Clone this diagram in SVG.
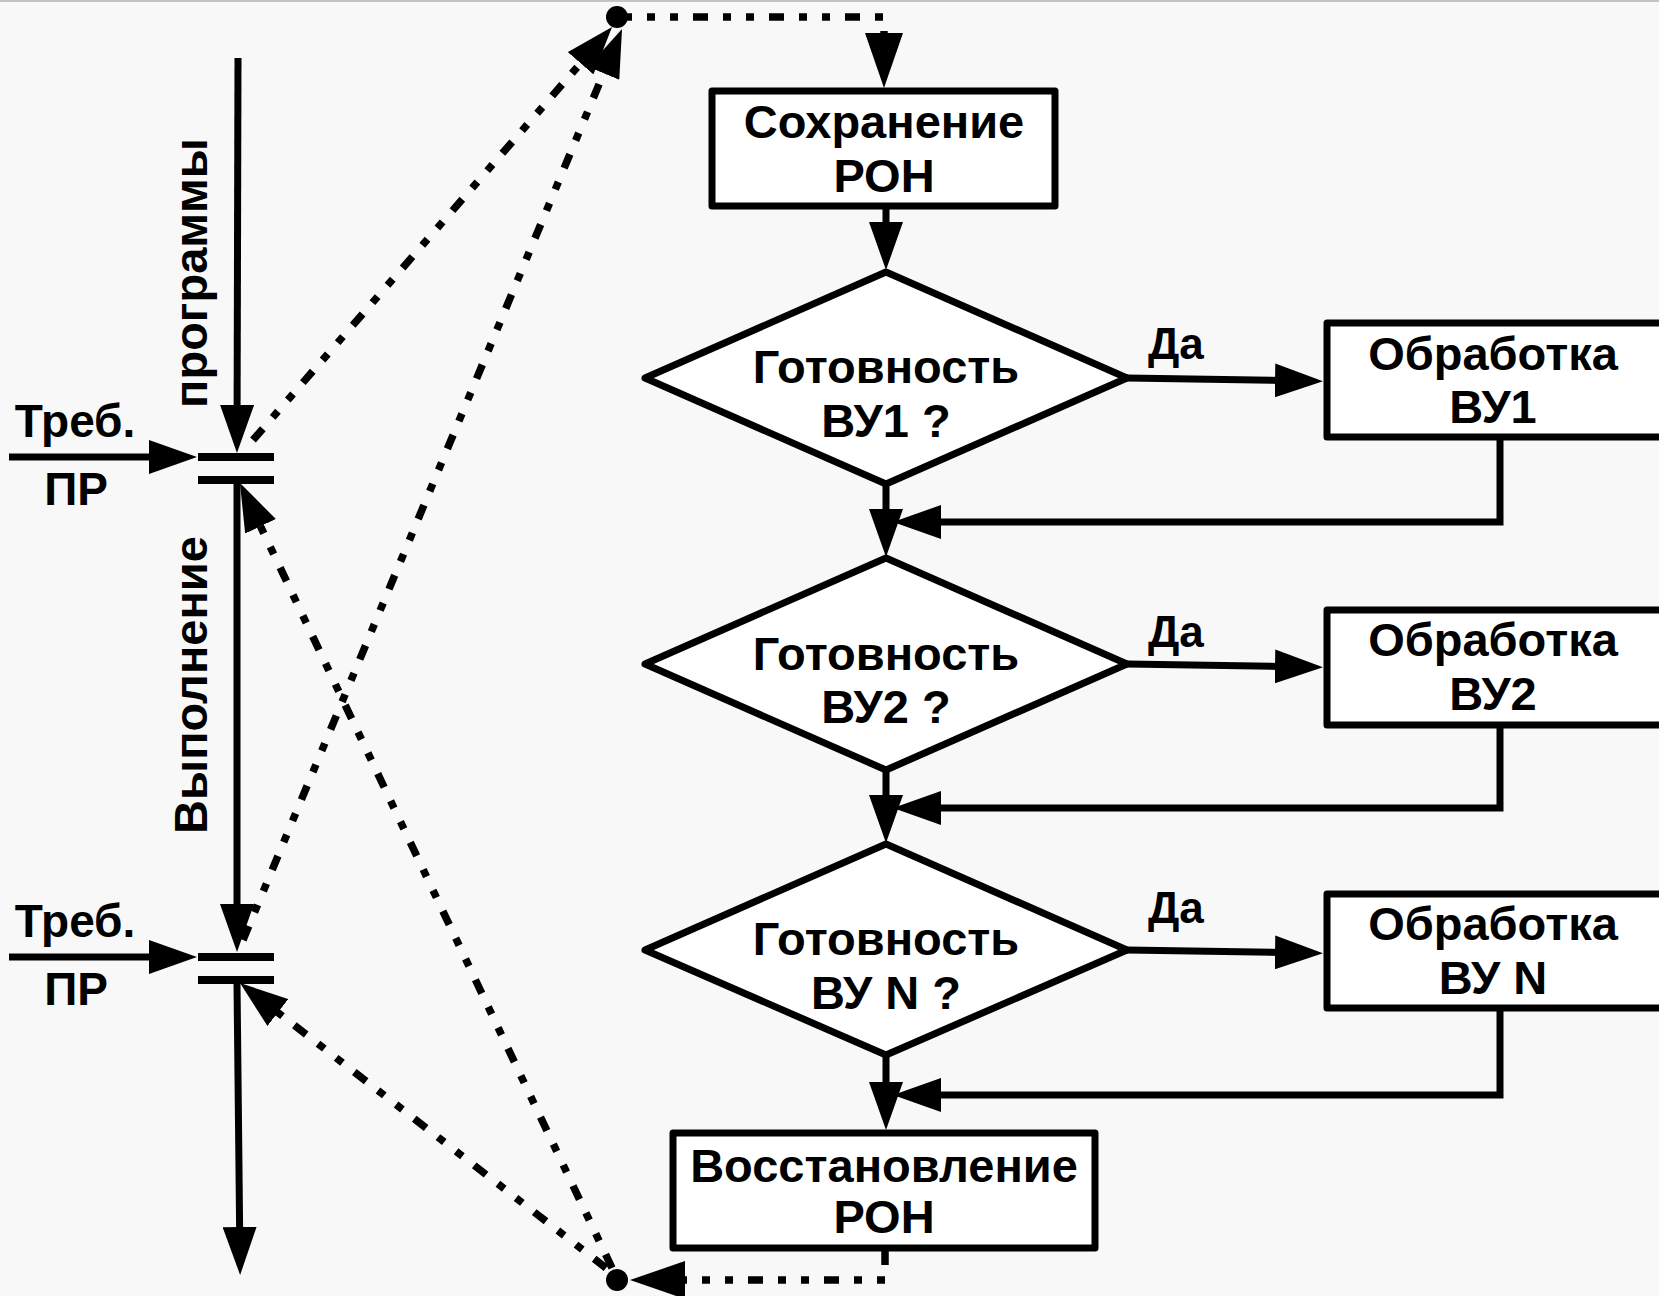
<svg xmlns="http://www.w3.org/2000/svg" width="1659" height="1296" viewBox="0 0 1659 1296">
<style>
  .bg{fill:#f8f8f8}
  .box{fill:#ffffff;stroke:#000;stroke-width:7;stroke-linejoin:round}
  .ln{fill:none;stroke:#000;stroke-width:7}
  .bar{fill:none;stroke:#000;stroke-width:8}
  .dot{fill:none;stroke:#000;stroke-width:7.5;stroke-dasharray:15 15 8 15 8 15}
  text{font-family:"Liberation Sans",Arial,sans-serif;font-weight:bold;fill:#000}
  .t{font-size:47px;text-anchor:middle}
  .s{font-size:46px;text-anchor:middle}
  .da{font-size:44px}
</style>
<defs>
  <marker id="a" viewBox="0 0 48 34" refX="36" refY="17" markerWidth="48" markerHeight="34" markerUnits="userSpaceOnUse" orient="auto">
    <path d="M0,0 L48,17 L0,34 Z" fill="#000"/>
  </marker>
  <marker id="b" viewBox="0 0 55 38" refX="42" refY="19" markerWidth="55" markerHeight="38" markerUnits="userSpaceOnUse" orient="auto">
    <path d="M0,0 L55,19 L0,38 Z" fill="#000"/>
  </marker>
</defs>
<rect class="bg" x="0" y="0" width="1659" height="1296"/>
<rect x="0" y="0" width="1659" height="2" fill="#c4c4c4"/>

<g id="connectors">
  <!-- left program flow -->
  <path class="ln" d="M238,58 L237,441" marker-end="url(#a)"/>
  <path class="ln" d="M237,484 L237,940" marker-end="url(#a)"/>
  <path class="ln" d="M237,983 L240,1263" marker-end="url(#a)"/>
  <path class="ln" d="M9,457 L185,457" marker-end="url(#a)"/>
  <path class="ln" d="M9,957 L185,957" marker-end="url(#a)"/>
  <!-- flowchart -->
  <path class="ln" d="M886,206 L886,258" marker-end="url(#a)"/>
  <path class="ln" d="M886,484 L886,545" marker-end="url(#a)"/>
  <path class="ln" d="M886,770 L886,831" marker-end="url(#a)"/>
  <path class="ln" d="M886,1055 L886,1118" marker-end="url(#a)"/>
  <path class="ln" d="M1127,378 L1311,381" marker-end="url(#a)"/>
  <path class="ln" d="M1127,664 L1311,667" marker-end="url(#a)"/>
  <path class="ln" d="M1127,950 L1311,953" marker-end="url(#a)"/>
  <path class="ln" d="M1500,437 V522 H905" marker-end="url(#a)"/>
  <path class="ln" d="M1500,725 V808 H905" marker-end="url(#a)"/>
  <path class="ln" d="M1500,1010 V1095 H905" marker-end="url(#a)"/>
  <!-- dotted interrupt links -->
  <path class="dot" d="M617,17 H884 V75" marker-end="url(#b)"/>
  <path class="dot" d="M885,1250 V1280 H643" marker-end="url(#b)"/>
  <path class="dot" d="M253,440 L604.2,36.1" marker-end="url(#a)"/>
  <path class="dot" d="M243,940 L617.4,40.1" marker-end="url(#a)"/>
  <path class="dot" d="M612,1268 L245.1,493.8" marker-end="url(#a)"/>
  <path class="dot" d="M606,1268 L249.5,990.4" marker-end="url(#a)"/>
  <circle cx="617" cy="17" r="11" fill="#000"/>
  <circle cx="617" cy="1280" r="11" fill="#000"/>
</g>

<g id="gate1">
  <line class="bar" x1="198" y1="457" x2="274" y2="457"/>
  <line class="bar" x1="198" y1="480" x2="274" y2="480"/>
  <text class="s" x="75" y="437">Треб.</text>
  <text class="s" x="76" y="505">ПР</text>
</g>
<g id="gate2">
  <line class="bar" x1="198" y1="957" x2="274" y2="957"/>
  <line class="bar" x1="198" y1="980" x2="274" y2="980"/>
  <text class="s" x="75" y="937">Треб.</text>
  <text class="s" x="76" y="1005">ПР</text>
</g>
<g id="label-programmy">
  <text class="t" font-size="48" transform="translate(207,273) rotate(-90)">программы</text>
</g>
<g id="label-vypolnenie">
  <text class="t" font-size="48" transform="translate(207,685) rotate(-90)">Выполнение</text>
</g>

<g id="save">
  <rect class="box" x="712" y="91" width="343" height="115"/>
  <text class="t" x="884" y="138">Сохранение</text>
  <text class="t" x="884" y="192">РОН</text>
</g>

<g id="ready1">
  <polygon class="box" points="645,378 886,272 1127,378 886,484"/>
  <text class="t" x="886" y="383">Готовность</text>
  <text class="t" x="886" y="437">ВУ1 ?</text>
</g>
<g id="proc1">
  <rect class="box" x="1327" y="323" width="340" height="114"/>
  <text class="t" x="1493" y="370">Обработка</text>
  <text class="t" x="1493" y="423">ВУ1</text>
</g>
<text class="da" x="1148" y="359">Да</text>

<g id="ready2">
  <polygon class="box" points="645,664 886,558 1127,664 886,770"/>
  <text class="t" x="886" y="670">Готовность</text>
  <text class="t" x="886" y="723">ВУ2 ?</text>
</g>
<g id="proc2">
  <rect class="box" x="1327" y="610" width="340" height="115"/>
  <text class="t" x="1493" y="656">Обработка</text>
  <text class="t" x="1493" y="710">ВУ2</text>
</g>
<text class="da" x="1148" y="647">Да</text>

<g id="ready3">
  <polygon class="box" points="645,950 886,844 1127,950 886,1055"/>
  <text class="t" x="886" y="955">Готовность</text>
  <text class="t" x="886" y="1009">ВУ N ?</text>
</g>
<g id="proc3">
  <rect class="box" x="1327" y="894" width="340" height="114"/>
  <text class="t" x="1493" y="940">Обработка</text>
  <text class="t" x="1493" y="994">ВУ N</text>
</g>
<text class="da" x="1148" y="923">Да</text>

<g id="restore">
  <rect class="box" x="673" y="1133" width="422" height="115"/>
  <text class="t" x="884" y="1182">Восстановление</text>
  <text class="t" x="884" y="1233">РОН</text>
</g>
</svg>
